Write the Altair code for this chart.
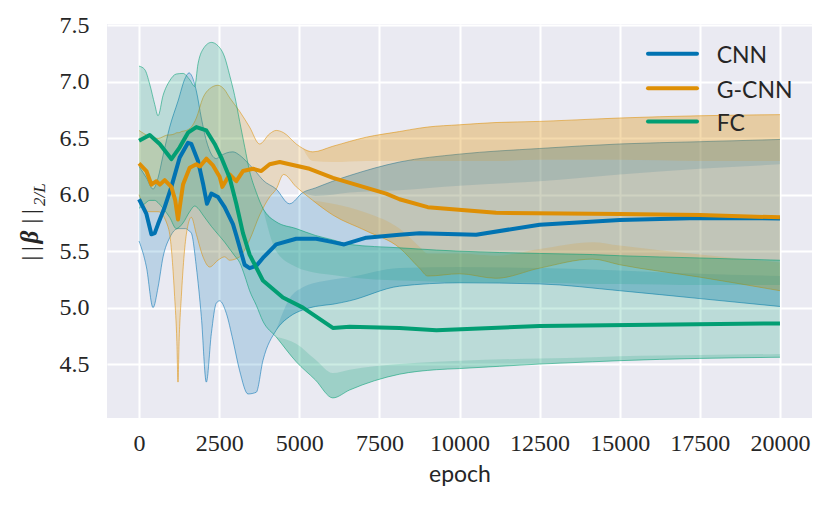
import altair as alt
import pandas as pd

# ---------------- data ----------------
series_names = ["CNN", "G-CNN", "FC"]
series_colors = ["#0173b2", "#de8f05", "#029e73"]

x_ticks = [0, 2500, 5000, 7500, 10000, 12500, 15000, 17500, 20000]
y_ticks = [4.5, 5.0, 5.5, 6.0, 6.5, 7.0, 7.5]

# CNN band
cnn_band_epoch = [0, 230, 437, 593, 750, 957, 1216, 1450, 1560, 1633, 1788, 1944, 2100, 2256, 2411,
                  2515, 2723, 2930, 3140, 3400, 3657, 3865, 4280, 4697, 5113, 5500, 6047, 6570, 8127,
                  10000, 12500, 15000, 17500, 20000]
cnn_upper = [6.25, 6.15, 6.05, 6.15, 6.35, 6.60, 6.83, 7.04, 7.08, 7.06, 6.92, 6.68, 6.48, 6.36, 6.32,
             6.34, 6.37, 6.38, 6.35, 6.28, 6.20, 6.13, 6.05, 5.92, 6.02, 6.06, 6.12, 6.17, 6.29,
             6.36, 6.41, 6.45, 6.47, 6.49]
cnn_lower = [5.59, 5.36, 5.00, 5.18, 5.45, 5.62, 5.70, 5.70, 5.68, 5.66, 5.36, 4.92, 4.34, 4.77, 5.04,
             5.06, 4.95, 4.71, 4.44, 4.235, 4.25, 4.53, 4.80, 4.92, 4.98, 5.01, 5.03, 5.06, 5.19,
             5.22, 5.21, 5.15, 5.08, 5.01]
cnn_hatch_upper = [None] * 24 + [6.02, 5.99, 6.00, 6.02, 6.04, 6.08, 6.12, 6.18, 6.23, 6.27]
cnn_hatch_lower = [None] * 22 + [4.80, 5.08, 5.18, 5.22, 5.25, 5.27, 5.35, 5.36, 5.35, 5.33, 5.30, 5.28]

# G-CNN band
gcnn_band_epoch = [0, 300, 600, 900, 957, 1110, 1180, 1216, 1250, 1320, 1476, 1632, 1788, 1996, 2204,
                   2463, 2670, 2827, 3137, 3449, 3763, 4075, 4280, 4510, 4905, 5113, 5420, 6050, 7090,
                   8127, 8750, 9010, 10000, 11140, 12500, 14150, 15000, 17500, 20000]
gcnn_upper = [6.57, 6.52, 6.50, 6.53, 6.53, 6.54, 6.55, 6.55, 6.55, 6.56, 6.57, 6.60, 6.68, 6.86, 6.94,
              6.97, 6.93, 6.86, 6.74, 6.60, 6.45, 6.54, 6.57, 6.55, 6.45, 6.41, 6.38, 6.43, 6.51,
              6.56, 6.59, 6.60, 6.62, 6.64, 6.65, 6.67, 6.68, 6.70, 6.71]
gcnn_lower = [6.00, 5.85, 5.85, 5.72, 5.65, 5.10, 4.70, 4.34, 4.70, 5.10, 5.65, 5.80, 5.65, 5.45, 5.36,
              5.42, 5.45, 5.42, 5.45, 5.60, 5.82, 5.98, 6.05, 6.18, 6.07, 6.02, 5.95, 5.82, 5.68,
              5.53, 5.35, 5.28, 5.30, 5.26, 5.35, 5.43, 5.38, 5.27, 5.15]
gcnn_hatch_upper = [None] * 25 + [6.41, 6.30, 6.29, 6.30, 6.30, 6.30, 6.30, 6.30, 6.30, 6.31, 6.31, 6.31, 6.30, 6.30]
gcnn_hatch_lower = [None] * 26 + [5.95, 5.92, 5.84, 5.70, 5.54, 5.48, 5.48, 5.46, 5.52, 5.58, 5.55, 5.47, 5.40]

# FC band
fc_band_epoch = [0, 177, 333, 490, 593, 749, 956, 1164, 1372, 1580, 1736, 1840, 1996, 2256, 2463,
                 2671, 2827, 2983, 3140, 3300, 3450, 3660, 3865, 4280, 4905, 5500, 6047, 6570, 8127,
                 9280, 10000, 12500, 14150, 15000, 17500, 20000]
fc_upper = [7.14, 7.11, 6.98, 6.80, 6.70, 6.88, 7.01, 7.07, 7.075, 7.02, 6.96, 7.16, 7.29, 7.35, 7.32,
            7.22, 7.06, 6.88, 6.65, 6.42, 6.21, 6.02, 5.88, 5.76, 5.70, 5.64, 5.60, 5.56, 5.53,
            5.51, 5.50, 5.48, 5.47, 5.46, 5.44, 5.42]
fc_lower = [5.88, 5.92, 5.95, 5.95, 5.93, 5.88, 5.80, 5.70, 5.75, 5.85, 5.90, 5.88, 5.82, 5.72, 5.65,
            5.58, 5.52, 5.46, 5.40, 5.28, 5.15, 5.02, 4.88, 4.74, 4.52, 4.36, 4.20, 4.27, 4.41,
            4.45, 4.46, 4.50, 4.52, 4.53, 4.55, 4.56]
fc_hatch_upper = [None] * 22 + [5.88, 5.50, 5.36, 5.31, 5.29, 5.27, 5.24, 5.23, 5.22, 5.22, 5.21, 5.21, 5.20, 5.20]
fc_hatch_lower = [None] * 23 + [4.74, 4.68, 4.54, 4.42, 4.45, 4.50, 4.52, 4.53, 4.55, 4.56, 4.57, 4.58, 4.59]

# mean curves
cnn_epoch = [0, 125, 230, 385, 490, 593, 800, 1009, 1268, 1528, 1632, 1840, 1996, 2120, 2256, 2463,
             2671, 2930, 3035, 3295, 3450, 3657, 3865, 4280, 4905, 5528, 6047, 6400, 7090, 8127,
             8750, 10520, 12500, 15000, 17500, 20000]
cnn_mean = [5.96, 5.89, 5.83, 5.65, 5.66, 5.74, 5.89, 6.07, 6.33, 6.46, 6.45, 6.30, 6.10, 5.92, 6.01, 5.98,
            5.89, 5.74, 5.64, 5.38, 5.35, 5.37, 5.44, 5.56, 5.61, 5.61, 5.58, 5.56, 5.62, 5.646,
            5.66, 5.646, 5.735, 5.776, 5.794, 5.79]

gcnn_epoch = [0, 230, 385, 541, 650, 800, 1009, 1130, 1216, 1300, 1372, 1580, 1788, 1900, 2100, 2308,
              2515, 2600, 2827, 3035, 3243, 3555, 3815, 4075, 4390, 4697, 5320, 6050, 7710, 8127,
              9010, 11140, 15000, 17500, 20000]
gcnn_mean = [6.278, 6.21, 6.09, 6.12, 6.09, 6.13, 6.07, 5.95, 5.78, 5.95, 6.09, 6.24, 6.27, 6.25, 6.32, 6.26,
             6.16, 6.07, 6.18, 6.12, 6.21, 6.23, 6.21, 6.27, 6.29, 6.27, 6.23, 6.15, 6.01, 5.96,
             5.89, 5.84, 5.83, 5.82, 5.80]

fc_epoch = [0, 333, 645, 1009, 1268, 1528, 1788, 2100, 2360, 2567, 2827, 3035, 3243, 3450, 3865, 4490,
            5113, 6047, 6570, 8127, 9280, 12500, 20000]
fc_mean = [6.479, 6.53, 6.45, 6.316, 6.42, 6.55, 6.60, 6.57, 6.45, 6.33, 6.15, 5.92, 5.66, 5.47, 5.24, 5.09,
           5.00, 4.82, 4.83, 4.82, 4.80, 4.837, 4.86]

# ---------------- chart ----------------
TXT = "#262626"
xs = alt.Scale(domain=[-1000, 21000], nice=False, zero=False)
ys = alt.Scale(domain=[4.022, 7.513], nice=False, zero=False)

xax = alt.Axis(values=x_ticks, format="d", title="epoch", grid=True, gridColor="white", gridWidth=2,
               domain=False, ticks=False, labelFont="Liberation Serif", labelFontSize=24,
               labelColor=TXT, labelPadding=13, labelFlush=False, labelOverlap=False,
               titleFont="Lato", titleFontSize=23, titleFontWeight="normal", titleColor=TXT,
               titlePadding=8)
yax = alt.Axis(values=y_ticks, format=".1f", title=None, grid=True, gridColor="white", gridWidth=2,
               domain=False, ticks=False, labelFont="Liberation Serif", labelFontSize=24,
               labelColor=TXT, labelPadding=18, labelFlush=False, labelOverlap=False)


def band_frame(e, u, l, hu, hl):
    return pd.DataFrame({"epoch": e, "upper": u, "lower": l, "hu": hu, "hl": hl})


bands = [
    band_frame(cnn_band_epoch, cnn_upper, cnn_lower, cnn_hatch_upper, cnn_hatch_lower),
    band_frame(gcnn_band_epoch, gcnn_upper, gcnn_lower, gcnn_hatch_upper, gcnn_hatch_lower),
    band_frame(fc_band_epoch, fc_upper, fc_lower, fc_hatch_upper, fc_hatch_lower),
]
means = [
    pd.DataFrame({"epoch": cnn_epoch, "value": cnn_mean}),
    pd.DataFrame({"epoch": gcnn_epoch, "value": gcnn_mean}),
    pd.DataFrame({"epoch": fc_epoch, "value": fc_mean}),
]

X = alt.X("epoch:Q", scale=xs, axis=xax)

layers = []
for df, col in zip(bands, series_colors):
    layers.append(alt.Chart(df).mark_area(color=col, opacity=0.2, interpolate="monotone").encode(
        x=X, y=alt.Y("upper:Q", scale=ys, axis=yax), y2="lower:Q"))
    dh = df.dropna(subset=["hu"])
    layers.append(alt.Chart(dh).mark_area(color=col, opacity=0.16, interpolate="monotone").encode(
        x=X, y=alt.Y("upper:Q", scale=ys, axis=yax), y2="hu:Q"))
    dl = df.dropna(subset=["hl"])
    layers.append(alt.Chart(dl).mark_area(color=col, opacity=0.16, interpolate="monotone").encode(
        x=X, y=alt.Y("lower:Q", scale=ys, axis=yax), y2="hl:Q"))
    for fld in ["upper", "lower"]:
        layers.append(alt.Chart(df).mark_line(color=col, opacity=0.55, strokeWidth=1,
                                              interpolate="monotone").encode(
            x=X, y=alt.Y(f"{fld}:Q", scale=ys, axis=yax)))

for df, col in zip(means, series_colors):
    layers.append(alt.Chart(df).mark_line(color=col, strokeWidth=4, strokeJoin="round").encode(
        x=X, y=alt.Y("value:Q", scale=ys, axis=yax)))

# legend (no frame), top-right inside the plot
leg_y = [29.8, 64.2, 97.5]
for name, col, yy in zip(series_names, series_colors, leg_y):
    d = pd.DataFrame({"name": [name]})
    layers.append(alt.Chart(d).mark_rule(color=col, strokeWidth=4, strokeCap="round").encode(
        x=alt.value(541), x2=alt.value(590), y=alt.value(yy)))
    layers.append(alt.Chart(d).mark_text(font="Lato", fontSize=23, color=TXT, align="left",
                                         baseline="alphabetic").encode(
        x=alt.value(609.7), y=alt.value(yy + 9.5), text="name:N"))

# y-axis title  ||beta||_{2/L}
ytitle = [("|\u2009|", -69, 236.5, 24, "normal", "normal"),
          ("β", -69, 219.5, 25, "italic", "bold"),
          ("|\u2009|", -69, 199.5, 24, "normal", "normal")]
for txt, xx, yy, fs, st, wt in ytitle:
    d = pd.DataFrame({"t": [txt]})
    layers.append(alt.Chart(d).mark_text(font="Liberation Serif", fontSize=fs, fontStyle=st,
                                         fontWeight=wt, color=TXT, angle=270, align="left",
                                         baseline="alphabetic").encode(
        x=alt.value(xx), y=alt.value(yy), text="t:N"))
dsub = pd.DataFrame({"t": ["2/L"]})
layers.append(alt.Chart(dsub).mark_text(font="Liberation Serif", fontSize=17, fontStyle="italic",
                                        color=TXT, angle=270, align="left",
                                        baseline="alphabetic").encode(
    x=alt.value(-62), y=alt.value(182), text="t:N"))

chart = alt.layer(*layers).properties(
    width=705, height=394,
    padding={"left": 99, "top": 16, "right": 10, "bottom": 80},
    autosize=alt.AutoSizeParams(type="none"),
    background="white",
).configure_view(stroke=None, fill="#eaeaf2")

chart.save("out.html", embed_options={"renderer": "svg", "actions": False})
